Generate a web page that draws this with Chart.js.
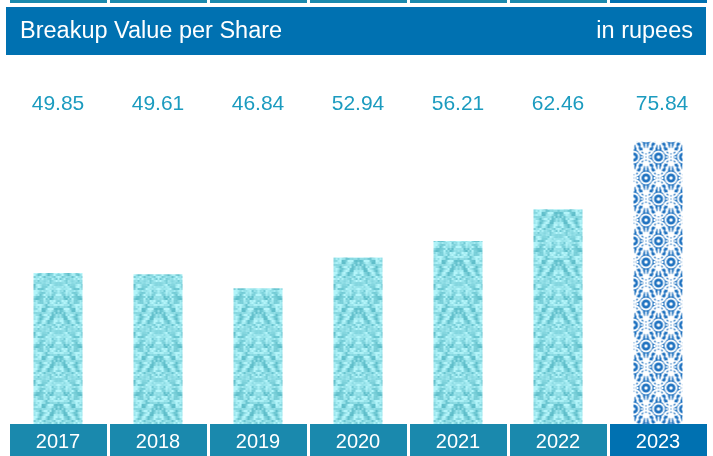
<!DOCTYPE html>
<html>
<head>
<meta charset="utf-8">
<script src="https://cdn.jsdelivr.net/npm/chart.js@4.4.1/dist/chart.umd.min.js"></script>
<style>
html,body{margin:0;padding:0;background:#fff}
#wrap{width:713px;height:456px;position:relative}
</style>
</head>
<body>
<div id="wrap"><canvas id="bvpsChart"></canvas></div>
<script>
// data
const years = ['2017', '2018', '2019', '2020', '2021', '2022', '2023'];
const bvps = [49.85, 49.61, 46.84, 52.94, 56.21, 62.46, 75.84];
const title = 'Breakup Value per Share';
const unit = 'in rupees';

const teal = '#1a89ad';
const blue = '#0071b1';
const valueColor = '#1b9bbf';
const fontFam = '"Liberation Sans", Arial, Helvetica, sans-serif';

// small deterministic hash, only used for the bar texture
function hash(x, y) {
  let h = (x * 374761393 + y * 668265263) | 0;
  h = (h ^ (h >>> 13)) * 1274126177 | 0;
  return ((h ^ (h >>> 16)) >>> 0) / 4294967295;
}

// light cyan mottled texture for the older years
function cyanPattern(ctx) {
  const W = 50, H = 48;
  const c = document.createElement('canvas');
  c.width = W; c.height = H;
  const g = c.getContext('2d');
  const img = g.createImageData(W, H);
  for (let y = 0; y < H; y++) {
    for (let x = 0; x < W; x++) {
      const mx = Math.min(x, W - 1 - x); // mirrored motif
      const n1 = hash(mx >> 1, y >> 1);
      const n2 = hash((mx >> 2) + 50, (y >> 2) + 50);
      const wave = 0.5 + 0.5 * Math.sin(2 * Math.PI * (y / H * 2 + mx / 12));
      let v = 0.45 * n1 + 0.3 * n2 + 0.25 * wave;
      v = Math.max(0, Math.min(1, (v - 0.15) * 1.7));
      const i = (y * W + x) * 4;
      img.data[i] = 95 + v * 85;
      img.data[i + 1] = 190 + v * 55;
      img.data[i + 2] = 202 + v * 48;
      img.data[i + 3] = 255;
    }
  }
  g.putImageData(img, 0, 0);
  return ctx.createPattern(c, 'repeat');
}

// blue / white ornamental tile for the latest year
function ornamentPattern(ctx) {
  const W = 25, H = 42;
  const c = document.createElement('canvas');
  c.width = W; c.height = H;
  const g = c.getContext('2d');
  g.fillStyle = '#1f72c0';
  g.fillRect(0, 0, W, H);
  g.strokeStyle = '#fff';
  g.fillStyle = '#fff';
  const lens = (cx, cy) => {
    g.lineWidth = 2;
    g.beginPath();
    g.ellipse(cx, cy, 11, 19.5, 0, 0, Math.PI * 2);
    g.stroke();
    g.beginPath(); g.arc(cx, cy, 5.5, 0, Math.PI * 2); g.stroke();
    g.beginPath(); g.arc(cx, cy, 1.8, 0, Math.PI * 2); g.fill();
    g.lineWidth = 1.8;
    for (let k = 0; k < 12; k++) {
      const a = k * Math.PI / 6;
      g.beginPath();
      g.moveTo(cx + Math.cos(a) * 7.5, cy + Math.sin(a) * 7.5);
      g.lineTo(cx + Math.cos(a) * 9.5, cy + Math.sin(a) * 9.5 * 1.4);
      g.stroke();
    }
    // petals above and below the ring
    [-1, 1].forEach(s => {
      g.beginPath();
      g.moveTo(cx, cy + s * 11);
      g.lineTo(cx - 4.5, cy + s * 15);
      g.lineTo(cx, cy + s * 17.5);
      g.lineTo(cx + 4.5, cy + s * 15);
      g.closePath();
      g.fill();
    });
  };
  const pts = [[12.5, 10], [12.5, 52], [12.5, -32], [0, 31], [25, 31], [0, -11], [25, -11]];
  pts.forEach(p => lens(p[0], p[1]));
  return ctx.createPattern(c, 'repeat');
}

const canvas = document.getElementById('bvpsChart');
const ctx = canvas.getContext('2d');
const cyan = cyanPattern(ctx);
const orn = ornamentPattern(ctx);
const barFills = years.map((y, i) => i === years.length - 1 ? orn : cyan);

// header, tabs and year boxes
const frame = {
  id: 'frame',
  beforeDraw(chart) {
    const c = chart.ctx;
    const xs = chart.scales.x;
    const area = chart.chartArea;
    c.save();
    c.fillStyle = blue;
    c.fillRect(6, 7, 700, 48);
    c.fillStyle = '#fff';
    c.font = '23.5px ' + fontFam;
    c.textBaseline = 'middle';
    c.textAlign = 'left';
    c.fillText(title, 20, 32);
    c.textAlign = 'right';
    c.fillText(unit, 693, 32);
    const w = xs.getPixelForValue(1) - xs.getPixelForValue(0);
    years.forEach((y, i) => {
      const left = xs.getPixelForValue(i) - w / 2 + 2;
      c.fillStyle = i === years.length - 1 ? blue : teal;
      c.fillRect(left, 0, w - 3, 3);
      c.fillRect(left, area.bottom, w - 3, 456 - area.bottom);
    });
    c.restore();
  },
  beforeDatasetsDraw(chart) {
    // line the textures up with each bar's left edge
    chart.getDatasetMeta(0).data.forEach((bar, i) => {
      const left = bar.x - bar.width / 2;
      const p = barFills[i];
      if (p.setTransform) p.setTransform(new DOMMatrix().translate(left, 0));
    });
  },
  afterDatasetsDraw(chart) {
    const c = chart.ctx;
    const xs = chart.scales.x;
    const area = chart.chartArea;
    c.save();
    c.textAlign = 'center';
    c.textBaseline = 'middle';
    years.forEach((y, i) => {
      const x = xs.getPixelForValue(i);
      c.fillStyle = '#fff';
      c.font = '20px ' + fontFam;
      c.fillText(y, x, area.bottom + 18);
      c.fillStyle = valueColor;
      c.font = '21px ' + fontFam;
      c.fillText(bvps[i].toFixed(2), x + (i === years.length - 1 ? 4 : 0), 104);
    });
    c.restore();
  }
};

new Chart(ctx, {
  type: 'bar',
  data: {
    labels: years,
    datasets: [{
      label: title,
      data: bvps,
      backgroundColor: barFills,
      borderWidth: 0,
      barPercentage: 0.49,
      categoryPercentage: 1
    }]
  },
  options: {
    responsive: true,
    maintainAspectRatio: false,
    animation: false,
    layout: { padding: { left: 8, right: 5, top: 60, bottom: 32 } },
    plugins: { legend: { display: false }, tooltip: { enabled: false } },
    scales: {
      x: { display: false },
      y: { display: false, min: 20, max: 92 }
    }
  },
  plugins: [frame]
});
</script>
</body>
</html>
